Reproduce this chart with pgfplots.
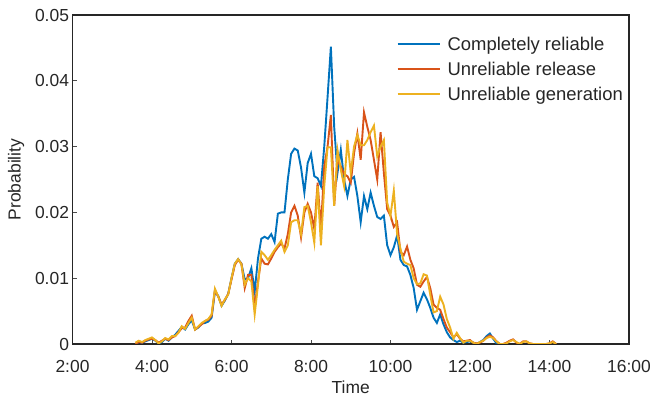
\documentclass[border=0pt]{standalone}
\usepackage{pgfplots}
\pgfplotsset{compat=1.18}
\usepackage{pgfplotstable}
\usepackage{fontspec}
\setmainfont{Liberation Sans}
\definecolor{mblue}{rgb}{0.0,0.447,0.741}
\definecolor{mred}{rgb}{0.85,0.325,0.098}
\definecolor{myel}{rgb}{0.929,0.694,0.125}
\pgfplotstableread{
m B R Y
215 0.0000 0.0000 0.0002
220 0.0003 0.0003 0.0005
225 0.0002 0.0002 0.0003
230 0.0004 0.0005 0.0006
235 0.0006 0.0007 0.0008
240 0.0008 0.0008 0.0010
245 0.0005 0.0006 0.0006
250 0.0001 0.0002 0.0001
255 0.0003 0.0005 0.0004
260 0.0008 0.0008 0.0009
265 0.0005 0.0006 0.0007
270 0.0010 0.0010 0.0012
275 0.0014 0.0012 0.0012
280 0.0020 0.0018 0.0017
285 0.0026 0.0024 0.0027
290 0.0022 0.0025 0.0023
295 0.0030 0.0035 0.0032
300 0.0036 0.0043 0.0040
305 0.0022 0.0022 0.0022
310 0.0025 0.0026 0.0027
315 0.0031 0.0030 0.0032
320 0.0032 0.0035 0.0035
325 0.0034 0.0037 0.0038
330 0.0040 0.0043 0.0045
335 0.0080 0.0082 0.0084
340 0.0073 0.0072 0.0072
345 0.0058 0.0060 0.0058
350 0.0066 0.0067 0.0068
355 0.0076 0.0076 0.0075
360 0.0100 0.0098 0.0100
365 0.0122 0.0120 0.0122
370 0.0129 0.0128 0.0129
375 0.0122 0.0122 0.0121
380 0.0098 0.0085 0.0090
385 0.0100 0.0105 0.0100
390 0.0115 0.0105 0.0095
395 0.0080 0.0055 0.0045
400 0.0130 0.0095 0.0090
405 0.0160 0.0130 0.0140
410 0.0163 0.0122 0.0135
415 0.0160 0.0121 0.0128
420 0.0167 0.0130 0.0135
425 0.0155 0.0140 0.0143
430 0.0198 0.0147 0.0150
435 0.0200 0.0153 0.0157
440 0.0200 0.0145 0.0140
445 0.0250 0.0167 0.0150
450 0.0289 0.0200 0.0185
455 0.0297 0.0210 0.0188
460 0.0294 0.0195 0.0188
465 0.0268 0.0162 0.0167
470 0.0230 0.0200 0.0208
475 0.0275 0.0213 0.0210
480 0.0289 0.0200 0.0185
485 0.0255 0.0175 0.0154
490 0.0252 0.0245 0.0240
495 0.0240 0.0175 0.0150
500 0.0300 0.0270 0.0240
505 0.0375 0.0300 0.0299
510 0.0452 0.0348 0.0299
515 0.0330 0.0210 0.0210
520 0.0260 0.0280 0.0295
525 0.0295 0.0270 0.0265
530 0.0250 0.0258 0.0240
535 0.0225 0.0255 0.0310
540 0.0250 0.0245 0.0260
545 0.0254 0.0290 0.0300
550 0.0225 0.0320 0.0318
555 0.0185 0.0280 0.0302
560 0.0225 0.0352 0.0302
565 0.0205 0.0330 0.0310
570 0.0230 0.0310 0.0322
575 0.0210 0.0280 0.0332
580 0.0193 0.0250 0.0285
585 0.0190 0.0322 0.0300
590 0.0195 0.0260 0.0310
595 0.0150 0.0205 0.0215
600 0.0135 0.0195 0.0195
605 0.0147 0.0178 0.0233
610 0.0165 0.0185 0.0167
615 0.0128 0.0140 0.0145
620 0.0120 0.0135 0.0125
625 0.0118 0.0148 0.0122
630 0.0105 0.0128 0.0120
635 0.0085 0.0115 0.0100
640 0.0052 0.0090 0.0091
645 0.0065 0.0087 0.0092
650 0.0078 0.0095 0.0106
655 0.0068 0.0102 0.0104
660 0.0055 0.0085 0.0075
665 0.0040 0.0060 0.0048
670 0.0032 0.0055 0.0050
675 0.0045 0.0052 0.0072
680 0.0030 0.0038 0.0060
685 0.0018 0.0025 0.0038
690 0.0010 0.0018 0.0025
695 0.0006 0.0010 0.0008
700 0.0003 0.0015 0.0017
705 0.0005 0.0008 0.0009
710 0.0002 0.0004 0.0002
715 0.0003 0.0005 0.0005
720 0.0004 0.0006 0.0005
725 0.0002 0.0002 0.0002
730 0.0000 0.0001 0.0000
735 0.0003 0.0002 0.0003
740 0.0006 0.0005 0.0005
745 0.0012 0.0010 0.0009
750 0.0016 0.0013 0.0011
755 0.0008 0.0010 0.0009
760 0.0001 0.0004 0.0004
765 0.0000 0.0000 0.0000
770 0.0000 0.0000 0.0000
775 nan 0.0002 0.0001
780 nan 0.0005 0.0004
785 nan 0.0007 0.0006
790 nan 0.0002 0.0003
795 nan 0.0000 0.0000
800 nan 0.0004 0.0003
805 nan 0.0004 0.0004
810 nan 0.0001 0.0001
815 nan 0.0000 0.0000
820 nan 0.0000 0.0000
825 nan 0.0000 0.0000
830 nan 0.0000 0.0000
835 nan 0.0000 0.0000
840 nan 0.0001 0.0001
845 nan 0.0004 0.0003
850 nan 0.0000 0.0000
}\datatable
\begin{document}
\begin{tikzpicture}
\useasboundingbox (0,0) rectangle (652bp,399bp);
\begin{axis}[
  at={(72.5bp,55bp)}, anchor=south west,
  scale only axis, width=556.5bp, height=329bp,
  xmin=120, xmax=960, ymin=0, ymax=0.05,
  xtick={120,240,360,480,600,720,840,960},
  xticklabels={2:00,4:00,6:00,8:00,10:00,12:00,14:00,16:00},
  ytick={0,0.01,0.02,0.03,0.04,0.05},
  yticklabels={0,0.01,0.02,0.03,0.04,0.05},
  scaled y ticks=false,
  xtick pos=bottom, ytick pos=left,
  tick align=inside,
  major tick length=4bp,
  tick style={line width=0.8bp, black!70},
  axis line style={line width=1.3bp, black!85},
  every axis plot/.append style={line width=1.9bp},
  font=\fontsize{17.5}{20}\selectfont,
  ticklabel style={font=\fontsize{17.5}{20}\selectfont, text=black!85},
  xticklabel style={yshift=-13bp},
  xlabel={Time}, ylabel={Probability},
  label style={font=\fontsize{17.5}{20}\selectfont, text=black!85},
  xlabel style={yshift=-1bp},
  ylabel style={yshift=4bp},
  legend cell align=left,
  legend style={draw=none, fill=none, at={(0.577,0.946)}, anchor=north west,
    font=\fontsize{18.5}{20}\selectfont, text=black!85,
    row sep=6bp, column sep=5bp, nodes={inner sep=2bp}},
  legend image code/.code={\draw[#1, line width=1.9bp] (0bp,0bp) -- (42bp,0bp);},
]
\addplot[mblue] table[x=m, y=B] {\datatable};
\addplot[mred] table[x=m, y=R] {\datatable};
\addplot[myel] table[x=m, y=Y] {\datatable};
\legend{Completely reliable, Unreliable release, Unreliable generation}
\end{axis}
\end{tikzpicture}
\end{document}
